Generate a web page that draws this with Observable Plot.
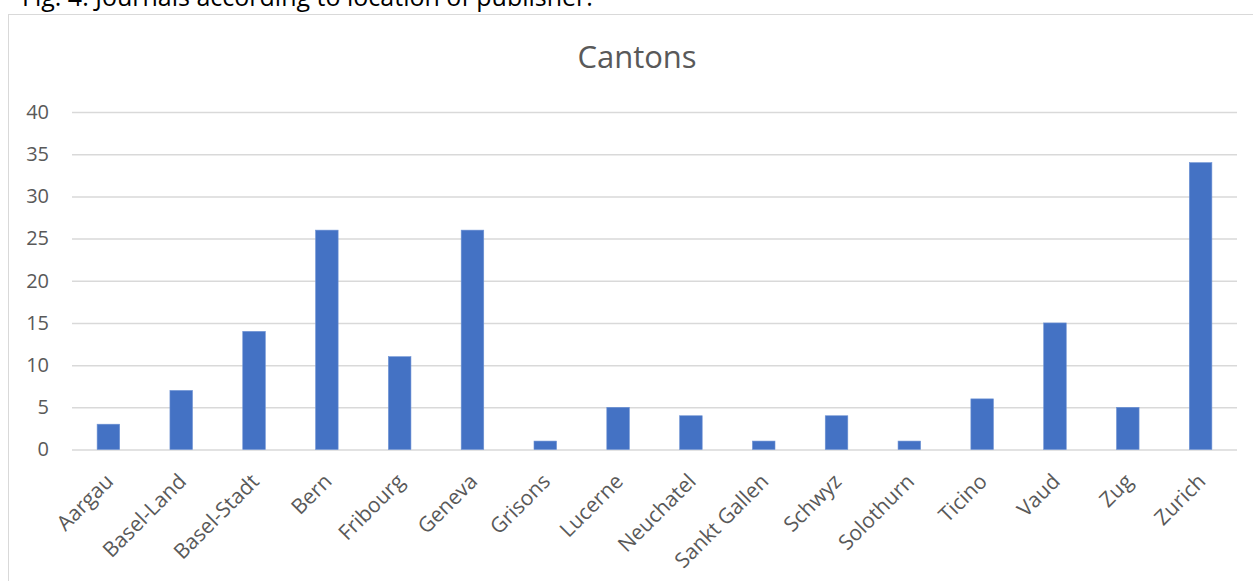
<!DOCTYPE html>
<html><head><meta charset="utf-8">
<script src="https://cdn.jsdelivr.net/npm/d3@7"></script>
<script src="https://cdn.jsdelivr.net/npm/@observablehq/plot@0.6"></script>
<style>
body{margin:0;width:1253px;height:581px;overflow:hidden;background:#fff;position:relative;font-family:"Open Sans",sans-serif;}
#caption{position:absolute;left:22px;top:-22px;font-size:25px;line-height:36px;color:#000;white-space:nowrap;}
#box{position:absolute;left:8px;top:14px;width:1258px;height:600px;border:1.5px solid #d9d9d9;box-sizing:border-box;background:#fff;}
#title{position:absolute;left:0;width:1256px;top:20px;text-align:center;font-size:31px;line-height:42px;color:#595959;}
#chart{position:absolute;left:0;top:0;}
</style></head>
<body>
<div id="caption">Fig. 4: Journals according to location of publisher.</div>
<div id="box"><div id="title">Cantons</div><div id="chart"></div></div>
<script>
const cantons = ["Aargau","Basel-Land","Basel-Stadt","Bern","Fribourg","Geneva","Grisons","Lucerne","Neuchatel","Sankt Gallen","Schwyz","Solothurn","Ticino","Vaud","Zug","Zurich"];
const journals = [3,7,14,26,11,26,1,5,4,1,4,1,6,15,5,34];
const yTicks = [0,5,10,15,20,25,30,35,40];

const data = cantons.map((c,i)=>({canton:c, value:journals[i]}));

const plot = Plot.plot({
  width: 1244,
  height: 570,
  marginLeft: 63,
  marginRight: 16,
  marginTop: 97,
  marginBottom: 135.5,
  style: {fontFamily: "'Open Sans', sans-serif", background: "transparent", overflow: "visible"},
  x: {domain: cantons, paddingInner: 0.69, paddingOuter: 0.345, round: false, axis: null},
  y: {domain: [0,40], axis: null},
  marks: [
    Plot.ruleY(yTicks, {stroke: "#d9d9d9", strokeWidth: 1.5}),
    Plot.barY(data, {x: "canton", y: "value", fill: "#4472c4", stroke: "#6f93d4", strokeWidth: 0.6}),
    Plot.text(yTicks, {y: d=>d, frameAnchor: "left", textAnchor: "end", dx: -23.5, text: d=>String(d), fill: "#595959", fontSize: 20}),
    Plot.text(cantons, {x: d=>d, frameAnchor: "bottom", rotate: -45, textAnchor: "end", lineAnchor: "middle", dx: 1, dy: 28, text: d=>d, fill: "#595959", fontSize: 21})
  ]
});
document.getElementById("chart").appendChild(plot);
</script>
</body></html>
